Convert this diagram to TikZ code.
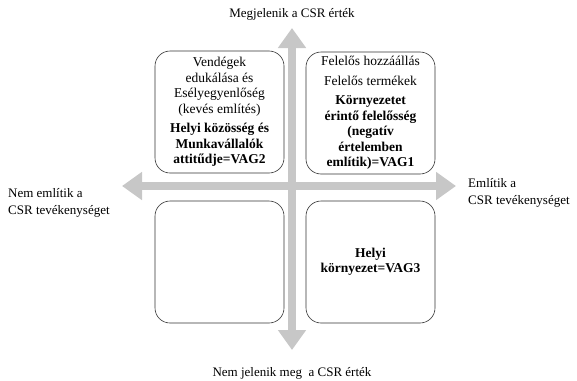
\documentclass[tikz,border=0pt]{standalone}
\usepackage{fontspec}
\setmainfont{Liberation Serif}
\usetikzlibrary{arrows.meta}
\begin{document}
\begin{tikzpicture}[x=1pt,y=-1pt,
  quad/.style={draw=black!80,line width=0.6pt,rounded corners=15pt,minimum width=129pt,minimum height=122pt,align=center,inner sep=0pt,font=\fontsize{13.5}{15.5}\selectfont},
  lbl/.style={font=\fontsize{13}{17}\selectfont,inner sep=0pt},
  axis/.style={draw=black!22,line width=8pt,{Triangle[width=27pt,length=20pt]}-{Triangle[width=27pt,length=20pt]}}]
\useasboundingbox (0,0) rectangle (577,380);
\coordinate (vt) at (292,28);
\coordinate (vb) at (292,350);
\coordinate (hl) at (122,186);
\coordinate (hr) at (456,186);
\draw[axis] (vt) -- (vb);
\draw[axis] (hl) -- (hr);
\node[quad] (tl) at (219.5,112) {Vendégek\\edukálása és\\Esélyegyenlőség\\(kevés említés)\\[4pt]\textbf{Helyi közösség és}\\\textbf{Munkavállalók}\\\textbf{attitűdje=VAG2}};
\node[quad] (tr) at (370.5,113) {Felelős hozzáállás\\[4pt]Felelős termékek\\[4pt]\textbf{Környezetet}\\\textbf{érintő felelősség}\\\textbf{(negatív}\\\textbf{értelemben}\\\textbf{említik)=VAG1}};
\node[quad] (bl) at (219.5,262) {};
\node[quad] (br) at (370.5,262) {\textbf{Helyi}\\\textbf{környezet=VAG3}};
\node[lbl,anchor=base] (top) at (292,17) {Megjelenik a CSR érték};
\node[lbl,anchor=base] (bot) at (292,376) {Nem jelenik meg\ \ a CSR érték};
\node[lbl,anchor=north west,align=left] (left) at (8,188) {Nem említik a\\CSR tevékenységet};
\node[lbl,anchor=north west,align=left] (right) at (468,178) {Említik a\\CSR tevékenységet};
\end{tikzpicture}
\end{document}
